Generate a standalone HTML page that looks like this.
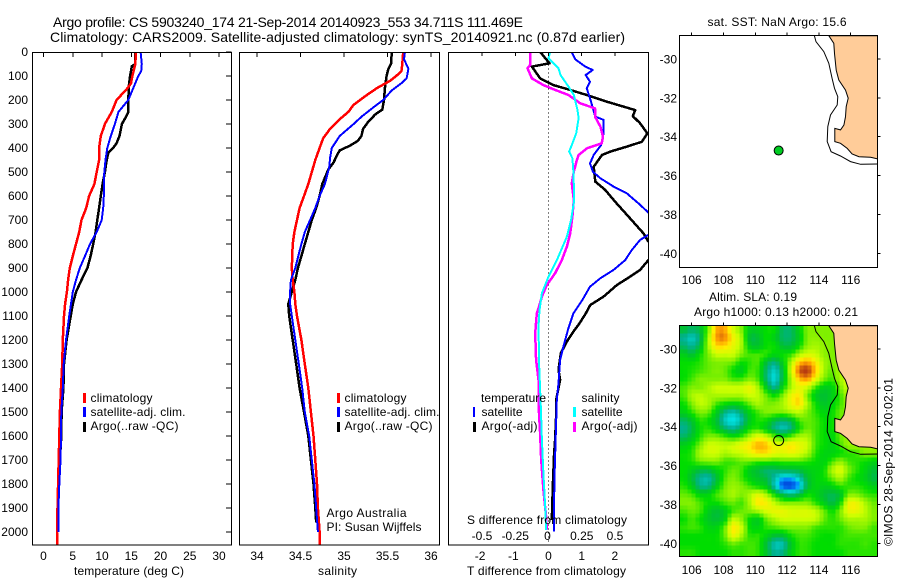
<!DOCTYPE html>
<html>
<head>
<meta charset="utf-8">
<title>Argo profile 5903240_174</title>
<style>
html,body{margin:0;padding:0;background:#fff;width:900px;height:580px;overflow:hidden}
svg{display:block}
text{font-family:"Liberation Sans",sans-serif;font-size:12px;fill:#000}
.title{font-size:14px}
.frame{fill:none;stroke:#000;stroke-width:1;shape-rendering:crispEdges}
.s{fill:none;stroke-linejoin:round;shape-rendering:crispEdges}
</style>
</head>
<body>
<svg id="chart" xmlns="http://www.w3.org/2000/svg" width="900" height="580" viewBox="0 0 900 580">
<defs>
<clipPath id="clip1"><rect x="32.5" y="52.5" width="199" height="492.5"/></clipPath>
<clipPath id="clip2"><rect x="239.5" y="52.5" width="200" height="492.5"/></clipPath>
<clipPath id="clip3"><rect x="448.5" y="52.5" width="200" height="492.5"/></clipPath>
<clipPath id="clipM1"><rect x="679.5" y="35.5" width="198" height="232"/></clipPath>
<clipPath id="clipM2"><rect x="679.5" y="325.5" width="198" height="231"/></clipPath>
</defs>
<text class="title" x="53" y="27" textLength="470">Argo profile: CS 5903240_174 21-Sep-2014 20140923_553 34.711S 111.469E</text>
<text class="title" x="50" y="42" textLength="575">Climatology: CARS2009. Satellite-adjusted climatology: synTS_20140921.nc (0.87d earlier)</text>

<g id="heatLayer" clip-path="url(#clipM2)"></g>
<g id="series"></g>
<g id="ticks"></g>

<rect class="frame" x="32.5" y="52.5" width="199" height="492.5"/>
<rect class="frame" x="239.5" y="52.5" width="200" height="492.5"/>
<rect class="frame" x="448.5" y="52.5" width="200" height="492.5"/>
<rect class="frame" x="679.5" y="35.5" width="198" height="232"/>
<rect class="frame" x="679.5" y="325.5" width="198" height="231"/>

<text x="74" y="575" textLength="110">temperature (deg C)</text>
<text x="318" y="575" textLength="39">salinity</text>
<text x="467" y="575" textLength="159">T difference from climatology</text>
<text x="467" y="524" textLength="160">S difference from climatology</text>

<g>
<rect x="83" y="393" width="3" height="10" fill="#f00"/>
<rect x="83" y="407" width="3" height="10" fill="#00f"/>
<rect x="83" y="422" width="3" height="10" fill="#000"/>
<text x="90.5" y="402" textLength="62">climatology</text>
<text x="90.5" y="416" textLength="95">satellite-adj. clim.</text>
<text x="90.5" y="430" textLength="88">Argo(..raw -QC)</text>
</g>
<g>
<rect x="337" y="393" width="3" height="10" fill="#f00"/>
<rect x="337" y="407" width="3" height="10" fill="#00f"/>
<rect x="337" y="422" width="3" height="10" fill="#000"/>
<text x="344.5" y="402" textLength="62">climatology</text>
<text x="344.5" y="416" textLength="95">satellite-adj. clim.</text>
<text x="344.5" y="430" textLength="88">Argo(..raw -QC)</text>
<text x="326.5" y="517" textLength="80">Argo Australia</text>
<text x="326.5" y="531" textLength="95">PI: Susan Wijffels</text>
</g>
<g>
<text x="481" y="402" textLength="65">temperature</text>
<text x="581.5" y="402" textLength="38">salinity</text>
<rect x="473" y="407" width="2" height="10" fill="#00f"/>
<rect x="473" y="422" width="3" height="10" fill="#000"/>
<rect x="573" y="407" width="3" height="10" fill="#0ff"/>
<rect x="573" y="422" width="3" height="10" fill="#f0f"/>
<text x="481.5" y="416" textLength="41">satellite</text>
<text x="481.5" y="430" textLength="56">Argo(-adj)</text>
<text x="581.5" y="416" textLength="41">satellite</text>
<text x="581.5" y="430" textLength="56">Argo(-adj)</text>
</g>

<text x="707.5" y="26" textLength="139">sat. SST: NaN Argo: 15.6</text>
<text x="709" y="301" textLength="88">Altim. SLA: 0.19</text>
<text x="694" y="316" textLength="164">Argo h1000: 0.13 h2000: 0.21</text>
<text transform="translate(892.5,546) rotate(-90)" x="0" y="0" textLength="168">©IMOS 28-Sep-2014 20:02:01</text>
</svg>
<script>
// ---------- profile axes data ----------
const depthTicks = [0,100,200,300,400,500,600,700,800,900,1000,1100,1200,1300,1400,1500,1600,1700,1800,1900,2000];
const tempTicks = [0,5,10,15,20,25,30];
const salTicks = [34,34.5,35,35.5,36];
const salTickLabels = ['34','34.5','35','35.5','36'];
const tDiffTicks = [-2,-1,0,1,2];
const tDiffTickLabels = ['-2','-1','0','1','2'];
const sDiffTicks = [-0.5,-0.25,0,0.25,0.5];
const sDiffTickLabels = ['-0.5','-0.25','0','0.25','0.5'];
const lonTicks = [106,108,110,112,114,116];
const latTicks = [-30,-32,-34,-36,-38,-40];

// ---------- temperature panel ----------
const tempClimDepth = [0,50,100,130,150,200,250,300,350,400,450,500,550,600,650,700,750,800,850,900,950,1000,1050,1100,1200,1300,1400,1500,1600,1700,1800,1900,2000,2054];
const tempClimValue = [15.8,15.7,15.2,14.95,14.4,12.5,11.65,10.5,9.8,9.5,9.5,9.1,8.7,7.8,7.3,6.5,6.1,5.55,5.0,4.5,4.2,4.0,3.7,3.5,3.3,3.2,3.0,2.8,2.7,2.6,2.5,2.4,2.3,2.35];
const tempSatDepth = [0,50,80,100,150,200,250,300,350,400,450,500,550,600,650,700,750,800,850,900,950,1000,1050,1100,1200,1300,1400,1500,1600,1700,1800,1900,2000];
const tempSatValue = [16.6,16.8,16.7,16.2,15.35,14.5,12.8,12.2,11.5,10.9,10.6,10.4,10.3,10.3,10.2,9.95,9.1,7.95,7.1,6.2,5.55,5.0,4.7,4.4,3.85,3.45,3.3,3.05,3.0,2.9,2.7,2.55,2.55];
const tempArgoDepth = [0,50,60,100,150,250,270,300,350,380,400,420,450,500,550,600,650,700,750,800,850,900,950,1000,1050,1100,1200,1300,1400,1500,1600,1700,1800,1900,2000];
const tempArgoValue = [15.7,15.65,15.1,14.8,14.55,14.5,14.1,13.4,13,12.5,11.9,11.1,10.8,10.5,10.1,9.8,9.5,9.2,8.9,8.5,8.05,7.5,6.5,5.55,5,4.65,3.95,3.5,3.4,3.1,3.05,2.8,2.6,2.4,2.35];

// ---------- salinity panel ----------
const salClimDepth = [0,50,80,100,120,150,180,220,250,280,320,360,400,450,500,550,600,650,700,750,800,900,950,1000,1050,1100,1200,1300,1400,1500,1600,1700,1800,1900,2000,2054];
const salClimValue = [35.68,35.67,35.66,35.6,35.53,35.38,35.26,35.11,35.05,34.95,34.84,34.76,34.72,34.67,34.63,34.59,34.54,34.49,34.46,34.43,34.41,34.40,34.41,34.43,34.44,34.46,34.51,34.55,34.59,34.62,34.65,34.67,34.69,34.70,34.72,34.72];
const salSatDepth = [0,30,70,110,130,160,200,230,270,300,350,400,440,480,550,600,650,700,750,800,850,900,950,1000,1050,1100,1200,1300,1400,1500,1600,1700,1800,1900,2000];
const salSatValue = [35.70,35.69,35.74,35.72,35.66,35.55,35.45,35.34,35.2,35.11,34.95,34.86,34.84,34.83,34.78,34.72,34.67,34.61,34.55,34.51,34.475,34.44,34.39,34.38,34.38,34.40,34.44,34.48,34.52,34.55,34.6,34.63,34.66,34.68,34.70];
const salArgoDepth = [0,50,70,100,150,200,240,260,290,320,350,370,390,410,430,460,490,550,600,650,700,750,800,850,900,950,1000,1050,1100,1200,1300,1400,1500,1600,1700,1800,1900,1960];
const salArgoValue = [35.55,35.54,35.51,35.49,35.47,35.46,35.44,35.36,35.28,35.22,35.2,35.16,35.07,34.95,34.92,34.88,34.82,34.75,34.72,34.68,34.63,34.59,34.55,34.51,34.47,34.44,34.40,34.36,34.37,34.41,34.45,34.49,34.54,34.59,34.62,34.65,34.67,34.68];

// ---------- difference panel ----------
const dtSatDepth = [0,30,60,75,96,124,151,193,221,269,283,339,388,429,464,499,526,561,589,631,669,715,762,783,825,867,908,943,978,1033,1089,1151,1228,1283,1380,1450,1589,1728,1866,1998];
const dtSatValue = [0.70,0.80,1.10,1.33,1.12,1.25,1.15,1.25,1.31,1.41,1.66,1.66,1.58,1.36,1.25,1.34,1.56,1.96,2.36,2.71,3.01,3.4,3.01,2.76,2.51,2.31,1.96,1.56,1.25,1.02,0.75,0.60,0.45,0.35,0.30,0.25,0.22,0.19,0.17,0.16];
const dtArgoDepth = [0,47,61,110,138,158,179,207,242,267,297,339,374,394,415,429,478,540,575,624,686,756,790,825,867,908,936,971,1019,1054,1095,1137,1165,1207,1255,1325,1366,1450,1519,1616,1672,1811,1950];
const dtArgoValue = [-0.25,0.03,-0.5,-0.25,0.15,0.65,1.15,1.76,2.61,2.54,2.76,2.98,2.81,2.36,1.86,1.61,1.36,1.41,1.71,2.01,2.41,2.86,3.01,3.4,3.01,2.76,2.46,2.06,1.66,1.26,1.10,0.90,0.75,0.55,0.37,0.30,0.35,0.23,0.23,0.20,0.17,0.13,0.10];
const dsSatDepth = [0,26,68,96,144,179,242,276,339,388,415,443,506,617,700,769,867,936,1005,1075,1144,1311,1477,1616,1755,1894,1991];
const dsSatValue = [0.013,0,0.075,0.09,0.15,0.19,0.218,0.226,0.208,0.175,0.155,0.18,0.188,0.193,0.17,0.138,0.063,0,-0.05,-0.068,-0.075,-0.07,-0.058,-0.05,-0.038,-0.025,-0.018];
const dsArgoDepth = [0,54,68,110,138,158,179,214,235,269,311,353,381,401,429,457,499,547,617,686,756,811,867,922,971,1019,1068,1089,1172,1283,1366,1464,1589,1700,1825,1936,1991];
const dsArgoValue = [-0.138,-0.138,-0.158,-0.125,-0.038,0.05,0.15,0.24,0.35,0.35,0.39,0.41,0.40,0.29,0.226,0.21,0.19,0.175,0.19,0.18,0.163,0.138,0.10,0.05,-0.013,-0.05,-0.075,-0.088,-0.10,-0.093,-0.075,-0.075,-0.063,-0.055,-0.038,-0.018,-0.0125];

// ---------- maps ----------
const floatLon = 111.469;
const floatLat = -34.711;
const landLon = [114.62,114.94,114.98,115.09,115.25,115.67,115.84,115.72,115.67,115.57,115.36,115.00,115.00,115.36,115.78,116.09,116.52,117.25,117.80,117.80];
const landLat = [-28.80,-29.19,-29.71,-30.57,-31.08,-31.60,-32.02,-32.45,-32.97,-33.40,-33.65,-33.57,-34.25,-34.34,-34.60,-34.89,-35.03,-35.06,-35.16,-28.80];
const contourLon = [113.72,113.82,114.31,114.62,114.83,114.98,115.19,115.15,114.73,114.56,114.52,114.77,115.36,115.99,116.62,117.80];
const contourLat = [-28.80,-29.11,-29.62,-30.22,-31.0,-31.51,-31.94,-32.37,-32.88,-33.48,-34.25,-34.77,-34.99,-35.28,-35.42,-35.40];

// sea-level anomaly field on a coarse grid (rows north to south)
const slaGrid = [
[-1,-1.5,-1,1,3.8,3.8,2.2,1,-.5,-.5,0,0,-1.5,-1.5,-.3,1,1,1,1,1,1,1,1,1],
[-2,-2.5,-1.5,1.5,4,4.2,2.8,1.5,-1,-1,0,-.5,-1.5,-1.5,-.5,1,1.2,1,1,1,1,1,1,1],
[-1.5,-2,-1,1.5,3.2,3.2,2.5,1.5,-.5,-.8,0,0,-1,-1,0,1.2,1.5,1.2,1,1,1,1,1,1],
[-.5,-1,0,1,2,2,2,1,.5,.5,.3,-.3,0,.3,1.5,2.2,2,1.2,1,1,1,1,1,1],
[0,0,.3,.8,1,1,.8,0,.3,.5,-1,-1.8,-.5,1.5,3.5,4,3,1.5,1,1.2,1,1,1,1],
[0,.2,.5,.8,1,.8,0,-.5,.5,.3,-1.5,-2.6,-1,2,4.5,5,3.5,1.5,.8,1.5,1.5,1,1,1],
[0,.5,1,1,1,1,.5,.5,1,.5,-1.5,-2.8,-1,1.5,3.5,4,2.5,1,.5,1.5,2,1,1,1],
[.5,1,1,1.5,2,2,2,2,2.5,1.5,-.5,-2,-.3,1.5,2.5,2,.5,-.5,-.3,1,2,1,1,1],
[.5,1.5,1.8,1.5,1.5,1.5,1.5,1.5,2,1.8,.8,0,1,2.5,3,1,-.5,-1,-.5,.5,1.5,1,1,1],
[0,1,1.8,1.5,.5,0,-.3,0,.8,1.5,1,1,1.5,2.5,3.2,1.5,0,-.8,-.3,.5,1.2,1,1,1],
[-.5,.3,1,.8,-.5,-1.8,-2.3,-1.5,-.3,.5,1,1,1,1.5,1.8,1,.3,-.3,0,.8,1,1,1,1],
[-1.5,-.8,.3,0,-1,-2.5,-3,-2.2,-.6,.2,0,-1,-1.5,-1,.5,.8,.5,0,0,.8,1,1,1,1],
[-2,-1.2,0,.3,-.5,-1.5,-2,-1.2,0,.3,-.5,-1.7,-2.3,-1.7,0,.8,.5,0,0,.8,1,1,1,1],
[-1.5,-.8,.3,1,1,.5,0,.5,1.5,2.5,2,.8,0,.8,1.5,1.5,.5,0,-.3,.8,1.2,1.2,1.2,1.2],
[-.5,0,1,2,2,1.8,2,2.5,3,3.7,3.5,2.5,2.5,3,2.5,2,.5,0,-.3,.5,1.3,1.3,1.3,1.3],
[0,.3,1.5,2,2,1.5,1.8,2,2.5,3,3,2.5,2.3,2.5,2.2,1.5,.3,-.3,-.3,0,.3,.5,1,1],
[0,.2,.8,1,1,.5,.5,.8,.8,.5,.5,.3,.5,.5,.5,.3,0,-.3,.5,1.2,.5,.3,0,-.3],
[0,-.5,-1,-1,-.3,.3,.8,.5,-.5,-1,-1.5,-1.5,-1.3,-1.2,-1,-.5,-.3,0,1.5,2.2,1,.3,-.3,-1],
[0,-1,-2,-2.2,-1,.5,1,.5,-.3,-.8,-1.2,-2.2,-3.2,-3.2,-2.5,-1,-.3,0,.8,1.5,.5,0,-.5,-1.2],
[.3,-.5,-1.8,-1.8,-.5,.8,1.3,1,.5,0,-.5,-2.3,-3.8,-4,-3.2,-1.2,-.3,-.5,-.3,.3,.3,.3,0,-.5],
[.8,.5,-.3,-.3,.5,1,1.5,1,1.5,2.3,1.5,0,-1.2,-1.8,-1.2,0,-.3,-1,-1.3,-.8,1,1,.5,.3],
[1,1,.5,0,0,.5,.8,.5,1.5,3,2.8,1.8,1,1,1,1,.3,-.5,-1.2,0,2.5,2.5,1.5,.8],
[.5,.8,.5,-.5,-1,-.5,.5,.8,1,1.5,2.2,2.5,2.5,2.2,2.2,2.2,1.8,.8,0,1,2.5,2.5,1.8,1],
[0,.5,0,-.7,-1,-.3,1.8,1.2,0,-.5,.8,1.5,2,2,2,2,1.8,.8,.3,.8,1.5,1.5,1.5,1],
[.3,.5,.3,-.3,-.3,.8,3,2,0,-.3,.3,.5,.8,1,1,1,.5,.3,.3,.3,.8,1,1,.5],
[0,0,0,0,0,.8,2.5,1.5,.3,.3,-.3,-1,-1,0,.5,.5,.2,0,0,.3,.5,.5,.5,.5],
[0,0,0,0,0,.3,.8,.5,.5,.3,-1,-2.3,-2.3,-.8,.3,.3,0,0,0,.3,.3,.3,.5,.3],
[.3,.3,0,0,0,0,.3,.3,.5,.3,-.8,-2,-1.8,-.5,.3,.3,0,0,0,0,.3,.3,.3,.3]
];
const colorStops = [-4,-3.4,-3,-2,-1,0,1,2,3,4,5];
const colorHex = ['#0050e0','#0098ff','#00e0e0','#00b090','#00c030','#00dd00','#80f000','#ccff00','#ffee00','#ffa000','#b83c10'];

// ---------- scales ----------
const SVGNS = 'http://www.w3.org/2000/svg';
const depthY = d => 52 + d * 0.24;
const tempX = t => 43.5 + t * 5.85;
const salX = s => 257 + (s - 34) * 87;
const dtX = t => 548.5 + t * 33.2;
const dsX = s => 548.5 + s * 133;
const lonX = l => 691.7 + (l - 106) * 15.9;
const latY1 = l => 59 + (-30 - l) * 19.43;
const latY2 = l => 349 + (-30 - l) * 19.43;

const seriesLayer = document.getElementById('series');
const tickLayer = document.getElementById('ticks');
const heatLayer = document.getElementById('heatLayer');

function make(tag, attrs, parent) {
  const el = document.createElementNS(SVGNS, tag);
  for (const k in attrs) el.setAttribute(k, attrs[k]);
  parent.appendChild(el);
  return el;
}
function profile(depths, values, xFn, color, width, clip) {
  const pts = depths.map((d, i) => xFn(values[i]).toFixed(1) + ',' + depthY(d).toFixed(1)).join(' ');
  return make('polyline', {class: 's', points: pts, stroke: color, 'stroke-width': width, 'clip-path': 'url(#' + clip + ')'}, seriesLayer);
}
function tickLine(x1, y1, x2, y2) {
  return make('line', {x1: x1, y1: y1, x2: x2, y2: y2, stroke: '#000', 'stroke-width': 1, 'shape-rendering': 'crispEdges'}, tickLayer);
}
function label(str, x, y, anchor) {
  const t = make('text', {x: x, y: y, 'text-anchor': anchor}, tickLayer);
  t.textContent = str;
  return t;
}

// ---------- heatmap ----------
function hexToRgb(h) { return [1, 3, 5].map(i => parseInt(h.substr(i, 2), 16)); }
function slaColor(v) {
  let i = 0;
  while (i < colorStops.length - 2 && v > colorStops[i + 1]) i++;
  const f = Math.max(0, Math.min(1, (v - colorStops[i]) / (colorStops[i + 1] - colorStops[i])));
  const a = hexToRgb(colorHex[i]), b = hexToRgb(colorHex[i + 1]);
  return 'rgb(' + a.map((c, k) => Math.round(c + (b[k] - c) * f)).join(',') + ')';
}
function cubic(p0, p1, p2, p3, t) {
  return 0.5 * (2 * p1 + (p2 - p0) * t + (2 * p0 - 5 * p1 + 4 * p2 - p3) * t * t + (3 * p1 - p0 - 3 * p2 + p3) * t * t * t);
}
function slaAt(col, row) {
  const nr = slaGrid.length, nc = slaGrid[0].length;
  const c = Math.max(0, Math.min(nc - 1.001, col)), r = Math.max(0, Math.min(nr - 1.001, row));
  const c0 = Math.floor(c), r0 = Math.floor(r), fc = c - c0, fr = r - r0;
  const rowVals = [];
  for (let k = -1; k <= 2; k++) {
    const g = slaGrid[Math.max(0, Math.min(nr - 1, r0 + k))];
    const at = j => g[Math.max(0, Math.min(nc - 1, j))];
    rowVals.push(cubic(at(c0 - 1), at(c0), at(c0 + 1), at(c0 + 2), fc));
  }
  return cubic(rowVals[0], rowVals[1], rowVals[2], rowVals[3], fr);
}
const heatLeft = 679.5, heatTop = 325.5, heatW = 198, heatH = 231;
const pixel = 4;
for (let py = 0; py < heatH; py += pixel) {
  for (let px = 0; px < heatW; px += pixel) {
    const col = (px + pixel / 2) / heatW * slaGrid[0].length - 0.5;
    const row = (py + pixel / 2) / heatH * slaGrid.length - 0.5;
    const cell = make('rect', {x: heatLeft + px, y: heatTop + py, width: pixel + 0.2, height: pixel + 0.2, fill: slaColor(slaAt(col, row)), 'shape-rendering': 'crispEdges'}, heatLayer);
    
    
  }
}

// ---------- profile lines ----------
const l1 = profile(tempArgoDepth, tempArgoValue, tempX, '#000', 2.5, 'clip1');


const l2 = profile(tempClimDepth, tempClimValue, tempX, '#f00', 2.5, 'clip1');


const l3 = profile(tempSatDepth, tempSatValue, tempX, '#00f', 2, 'clip1');


const l4 = profile(salArgoDepth, salArgoValue, salX, '#000', 2.5, 'clip2');


const l5 = profile(salClimDepth, salClimValue, salX, '#f00', 2.5, 'clip2');


const l6 = profile(salSatDepth, salSatValue, salX, '#00f', 2, 'clip2');



const zero = make('line', {x1: dtX(0), y1: 52.5, x2: dtX(0), y2: 545, stroke: '#000', 'stroke-width': 1, 'stroke-dasharray': '1 3'}, seriesLayer);


const l7 = profile(dtArgoDepth, dtArgoValue, dtX, '#000', 2.5, 'clip3');


const l8 = profile(dtSatDepth, dtSatValue, dtX, '#00f', 2, 'clip3');


const l9 = profile(dsArgoDepth, dsArgoValue, dsX, '#f0f', 2.5, 'clip3');


const l10 = profile(dsSatDepth, dsSatValue, dsX, '#0ff', 2, 'clip3');



// ---------- maps ----------
function drawMap(latY, clip) {
  const landPts = landLon.map((l, i) => lonX(l).toFixed(1) + ',' + latY(landLat[i]).toFixed(1)).join(' ');
  const land = make('polygon', {points: landPts, fill: '#ffcc99', stroke: '#000', 'stroke-width': 1, 'clip-path': 'url(#' + clip + ')'}, seriesLayer);
  
  
  const contourPts = contourLon.map((l, i) => lonX(l).toFixed(1) + ',' + latY(contourLat[i]).toFixed(1)).join(' ');
  const contour = make('polyline', {points: contourPts, fill: 'none', stroke: '#000', 'stroke-width': 1, 'clip-path': 'url(#' + clip + ')'}, seriesLayer);
  
  
}
drawMap(latY1, 'clipM1');
drawMap(latY2, 'clipM2');
const m1 = make('circle', {cx: lonX(floatLon), cy: latY1(floatLat), r: 4.5, fill: '#00cc22', stroke: '#000', 'stroke-width': 1}, seriesLayer);


const m2 = make('circle', {cx: lonX(floatLon), cy: latY2(floatLat), r: 5, fill: 'none', stroke: '#000', 'stroke-width': 1}, seriesLayer);



// ---------- ticks and labels ----------
depthTicks.forEach(d => {
  const t = tickLine(226, depthY(d), 231.5, depthY(d));
  
  
  const lb = label(String(d), 28, depthY(d) + 4, 'end');
  
  
});
tempTicks.forEach(v => {
  const t = tickLine(tempX(v), 52.5, tempX(v), 57);
  
  
  const lb = label(String(v), tempX(v), 560, 'middle');
  
  
});
salTicks.forEach((v, i) => {
  const t = tickLine(salX(v), 52.5, salX(v), 57);
  
  
  const lb = label(salTickLabels[i], salX(v), 560, 'middle');
  
  
});
tDiffTicks.forEach((v, i) => {
  const t = tickLine(dtX(v), 52.5, dtX(v), 56);
  
  
  const lb = label(tDiffTickLabels[i], dtX(v) - (v < 0 ? 2 : 0), 560, 'middle');
  
  
});
sDiffTicks.forEach((v, i) => {
  const lb = label(sDiffTickLabels[i], dsX(v) - (v === 0 ? 1 : 0), 540, 'middle');
  
  
});
lonTicks.forEach(v => {
  const a = tickLine(lonX(v), 32.5, lonX(v), 35.5);
  
  
  const b = tickLine(lonX(v), 322.5, lonX(v), 325.5);
  
  
  const la = label(String(v), lonX(v), 284, 'middle');
  
  
  const lc = label(String(v), lonX(v), 574, 'middle');
  
  
});
latTicks.forEach(v => {
  const a = tickLine(877.5, latY1(v), 880.5, latY1(v));
  
  
  const b = tickLine(877.5, latY2(v), 880.5, latY2(v));
  
  
  const la = label(String(v), 677, latY1(v) + 4.5, 'end');
  
  
  const lc = label(String(v), 677, latY2(v) + 4.5, 'end');
  
  
});
</script>
</body>
</html>
